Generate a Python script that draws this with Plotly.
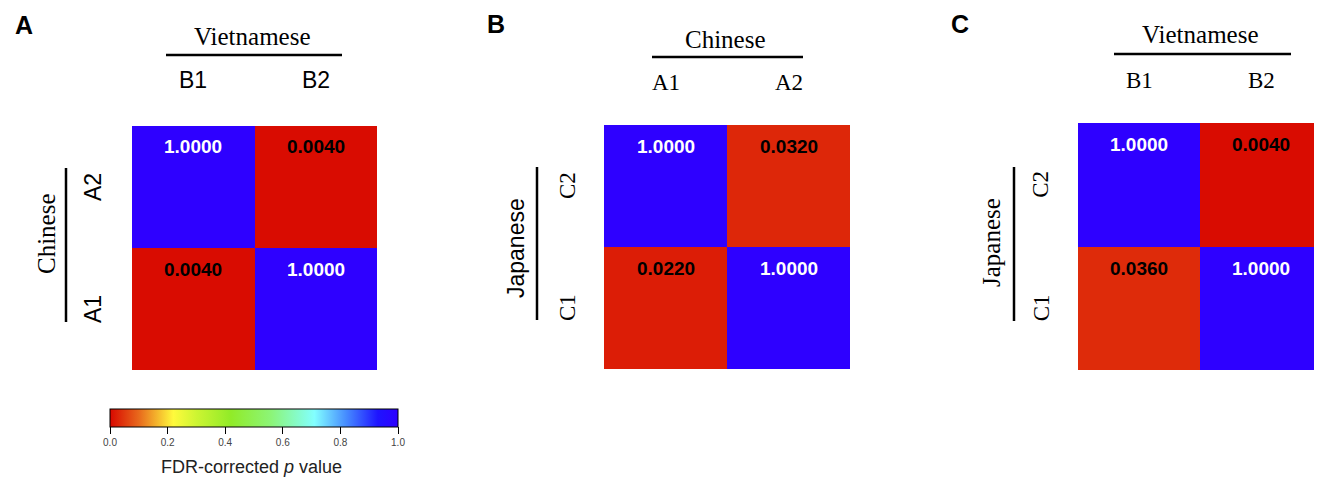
import plotly.graph_objects as go

W, H = 1322, 483
OFF = 8  # page body margin of the html page

# ---- data ----
panelA_cols = ["B1", "B2"]          # Vietnamese
panelA_rows = ["A1", "A2"]          # Chinese
panelA_z = [[0.0040, 1.0000],       # A1
            [1.0000, 0.0040]]       # A2

panelB_cols = ["A1", "A2"]          # Chinese
panelB_rows = ["C1", "C2"]          # Japanese
panelB_z = [[0.0220, 1.0000],       # C1
            [1.0000, 0.0320]]       # C2

panelC_cols = ["B1", "B2"]          # Vietnamese
panelC_rows = ["C1", "C2"]          # Japanese
panelC_z = [[0.0360, 1.0000],       # C1
            [1.0000, 0.0040]]       # C2

cbar_ticks = [0.0, 0.2, 0.4, 0.6, 0.8, 1.0]
cbar_ticktext = ["0.0", "0.2", "0.4", "0.6", "0.8", "1.0"]


def px(x):
    return (x - OFF) / W


def py(y):
    return 1 - (y - OFF) / H


SERIF = "Liberation Serif, Times New Roman, serif"
SANS = "Liberation Sans, Arial, sans-serif"

colorscale = [
    [0.00, "rgb(216,8,0)"],
    [0.10, "rgb(232,105,28)"],
    [0.22, "rgb(255,250,60)"],
    [0.30, "rgb(205,245,50)"],
    [0.42, "rgb(145,235,40)"],
    [0.56, "rgb(140,245,120)"],
    [0.71, "rgb(130,255,255)"],
    [0.82, "rgb(70,140,255)"],
    [0.93, "rgb(30,20,255)"],
    [1.00, "rgb(46,0,255)"],
]

panels = [
    dict(cols=panelA_cols, rows=panelA_rows, z=panelA_z, xd=(132, 377), yd=(126, 370),
         letter="A", lx=24, ly=25,
         top_title="Vietnamese", top_font=SERIF, top_tx=252, top_ty=37,
         hline=(166, 342, 55), tick_font=SANS, tick_y=80,
         left_title="Chinese", left_font=SERIF, left_tx=47, left_ty=234,
         vline=(66, 168, 322), ytick_x=93),
    dict(cols=panelB_cols, rows=panelB_rows, z=panelB_z, xd=(604, 850), yd=(125, 369),
         letter="B", lx=496, ly=24,
         top_title="Chinese", top_font=SERIF, top_tx=725, top_ty=39,
         hline=(652, 803, 57), tick_font=SERIF, tick_y=82,
         left_title="Japanese", left_font=SANS, left_tx=516, left_ty=248,
         vline=(537, 167, 320), ytick_x=567),
    dict(cols=panelC_cols, rows=panelC_rows, z=panelC_z, xd=(1078, 1322), yd=(123, 370),
         letter="C", lx=960, ly=24,
         top_title="Vietnamese", top_font=SERIF, top_tx=1200, top_ty=35,
         hline=(1114, 1291, 54), tick_font=SERIF, tick_y=80,
         left_title="Japanese", left_font=SERIF, left_tx=991, left_ty=243,
         vline=(1014, 167, 321), ytick_x=1041),
]

fig = go.Figure()
annotations = []
shapes = []

for i, p in enumerate(panels):
    n = "" if i == 0 else str(i + 1)
    xa, ya = "x" + n, "y" + n
    trace = go.Heatmap(
        z=p["z"], x=p["cols"], y=p["rows"],
        xaxis=xa, yaxis=ya,
        zmin=0, zmax=1, colorscale=colorscale,
        showscale=(i == 0),
        hoverinfo="skip",
    )
    if i == 0:
        trace.colorbar = dict(
            orientation="h", x=px(254), xanchor="center", y=py(409), yanchor="top",
            len=288, lenmode="pixels", thickness=18, thicknessmode="pixels",
            outlinewidth=1, outlinecolor="black",
            ticks="outside", ticklen=7, tickcolor="black", tickwidth=1,
            tickvals=cbar_ticks, ticktext=cbar_ticktext,
            tickfont=dict(size=10, color="#444", family=SANS),
            xpad=0, ypad=0,
        )
    fig.add_trace(trace)

    axkey = "xaxis" + n
    aykey = "yaxis" + n
    fig.update_layout({
        axkey: dict(domain=[px(p["xd"][0]), px(p["xd"][1])], anchor=ya,
                    showticklabels=False, showgrid=False, zeroline=False, ticks="",
                    fixedrange=True),
        aykey: dict(domain=[py(p["yd"][1]), py(p["yd"][0])], anchor=xa,
                    showticklabels=False, showgrid=False, zeroline=False, ticks="",
                    fixedrange=True),
    })

    # cell values
    for r, row in enumerate(p["rows"]):
        for c, col in enumerate(p["cols"]):
            v = p["z"][r][c]
            annotations.append(dict(
                x=col, y=row, xref=xa, yref=ya, text="<b>%.4f</b>" % v,
                showarrow=False, yshift=40, xanchor="center", yanchor="middle",
                font=dict(family=SANS, size=19, color="white" if v > 0.5 else "black"),
            ))

    # column tick labels
    for col in p["cols"]:
        annotations.append(dict(
            x=col, xref=xa, y=py(p["tick_y"]), yref="paper", text=col,
            showarrow=False, xanchor="center", yanchor="middle",
            font=dict(family=p["tick_font"], size=23, color="black"),
        ))
    # row tick labels (rotated)
    for row in p["rows"]:
        annotations.append(dict(
            x=px(p["ytick_x"]), xref="paper", y=row, yref=ya, text=row,
            showarrow=False, textangle=-90, xanchor="center", yanchor="middle",
            font=dict(family=p["tick_font"], size=23, color="black"),
        ))

    # group titles
    annotations.append(dict(
        x=px(p["top_tx"]), y=py(p["top_ty"]), xref="paper", yref="paper",
        text=p["top_title"], showarrow=False, xanchor="center", yanchor="middle",
        font=dict(family=SERIF, size=25, color="black"),
    ))
    annotations.append(dict(
        x=px(p["left_tx"]), y=py(p["left_ty"]), xref="paper", yref="paper",
        text=p["left_title"], showarrow=False, textangle=-90,
        xanchor="center", yanchor="middle",
        font=dict(family=p["left_font"], size=25 if p["left_font"] == SERIF else 23, color="black"),
    ))
    # panel letter
    annotations.append(dict(
        x=px(p["lx"]), y=py(p["ly"]), xref="paper", yref="paper",
        text="<b>%s</b>" % p["letter"], showarrow=False,
        xanchor="center", yanchor="middle",
        font=dict(family=SANS, size=25, color="black"),
    ))
    # bracket lines
    x0, x1, yl = p["hline"]
    shapes.append(dict(type="line", xref="paper", yref="paper",
                       x0=px(x0), x1=px(x1), y0=py(yl), y1=py(yl),
                       line=dict(color="black", width=2.5)))
    xl, y0, y1 = p["vline"]
    shapes.append(dict(type="line", xref="paper", yref="paper",
                       x0=px(xl), x1=px(xl), y0=py(y0), y1=py(y1),
                       line=dict(color="black", width=2.5)))

# colorbar title
annotations.append(dict(
    x=px(251), y=py(467), xref="paper", yref="paper",
    text="FDR-corrected <i>p</i> value", showarrow=False,
    xanchor="center", yanchor="middle",
    font=dict(family=SANS, size=18, color="#222"),
))

fig.update_layout(
    width=W, height=H,
    margin=dict(l=0, r=0, t=0, b=0),
    paper_bgcolor="white", plot_bgcolor="white",
    annotations=annotations, shapes=shapes,
    showlegend=False,
)

fig.write_html("out.html")
